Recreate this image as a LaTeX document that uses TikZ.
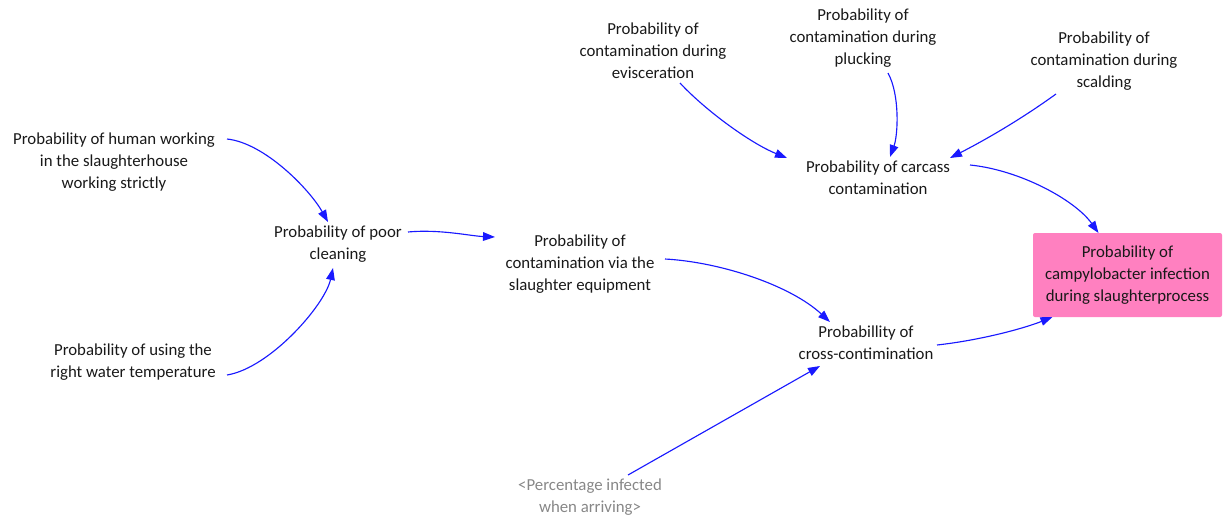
\documentclass[tikz,border=0pt]{standalone}
\usepackage{fontspec}
\setmainfont{Carlito}
\usetikzlibrary{arrows.meta,calc}
\definecolor{txt}{RGB}{25,25,25}
\definecolor{shadowtxt}{RGB}{135,135,135}
\definecolor{linkblue}{RGB}{25,25,255}
\definecolor{goalpink}{RGB}{255,128,192}
\begin{document}
\begin{tikzpicture}[x=0.75pt,y=-0.75pt,
  lbl/.style={align=center,font=\fontsize{12.6}{16.5}\selectfont,text=txt,inner sep=0pt},
  ghost/.style={lbl,text=shadowtxt},
  goal/.style={lbl,fill=goalpink,rounded corners=1.5pt,minimum width=141.75pt,minimum height=63pt},
  link/.style={draw=linkblue,line width=0.85pt,-{Triangle[length=9pt,width=6.5pt]}}]
\useasboundingbox (0,0) rectangle (1225,522);

% variables
\node[lbl] (human)   at (114,162) {Probability of human working\\in the slaughterhouse\\working strictly};
\node[lbl] (poor)    at (338,244) {Probability of poor\\cleaning};
\node[lbl] (water)   at (133,362) {Probability of using the\\right water temperature};
\node[lbl] (equip)   at (580,264) {Probability of\\contamination via the\\slaughter equipment};
\node[lbl] (evisc)   at (653,51)  {Probability of\\contamination during\\evisceration};
\node[lbl] (pluck)   at (863,38)  {Probability of\\contamination during\\plucking};
\node[lbl] (scald)   at (1104,61) {Probability of\\contamination during\\scalding};
\node[lbl] (carcass) at (878,178) {Probability of carcass\\contamination};
\node[lbl] (cross)   at (866,343) {Probabillity of\\cross-contimination};
\node[ghost] (arrive) at (590,497) {<Percentage infected\\when arriving>};
\node[goal] (infect) at (1127.5,275) {Probability of\\campylobacter infection\\during slaughterprocess};

% causal links
\draw[link] ($(human)+(113,-23)$) .. controls (265,143) and (310,190) .. ($(poor)+(-10,-22)$);
\draw[link] ($(water)+(94,13)$) .. controls (270,368) and (325,305) .. ($(poor)+(-5,24)$);
\draw[link] ($(poor)+(70,-12)$) .. controls (440,229) and (470,236) .. ($(equip)+(-85,-27)$);
\draw[link] ($(equip)+(85,-5)$) .. controls (720,262) and (790,285) .. ($(cross)+(-36,-21)$);
\draw[link] ($(arrive)+(38,-22)$) -- ($(cross)+(-46,23)$);
\draw[link] ($(cross)+(71,2)$) .. controls (982,340) and (1025,328) .. ($(infect)+(-75,42)$);
\draw[link] ($(carcass)+(92,-13)$) .. controls (1020,170) and (1075,200) .. ($(infect)+(-29,-42)$);
\draw[link] ($(evisc)+(27,32)$) .. controls (705,110) and (750,143) .. ($(carcass)+(-91,-20)$);
\draw[link] ($(pluck)+(25,35)$) .. controls (900,95) and (898,135) .. ($(carcass)+(12,-21)$);
\draw[link] ($(scald)+(-48,33)$) .. controls (1020,120) and (985,140) .. ($(carcass)+(72,-20)$);
\end{tikzpicture}
\end{document}
